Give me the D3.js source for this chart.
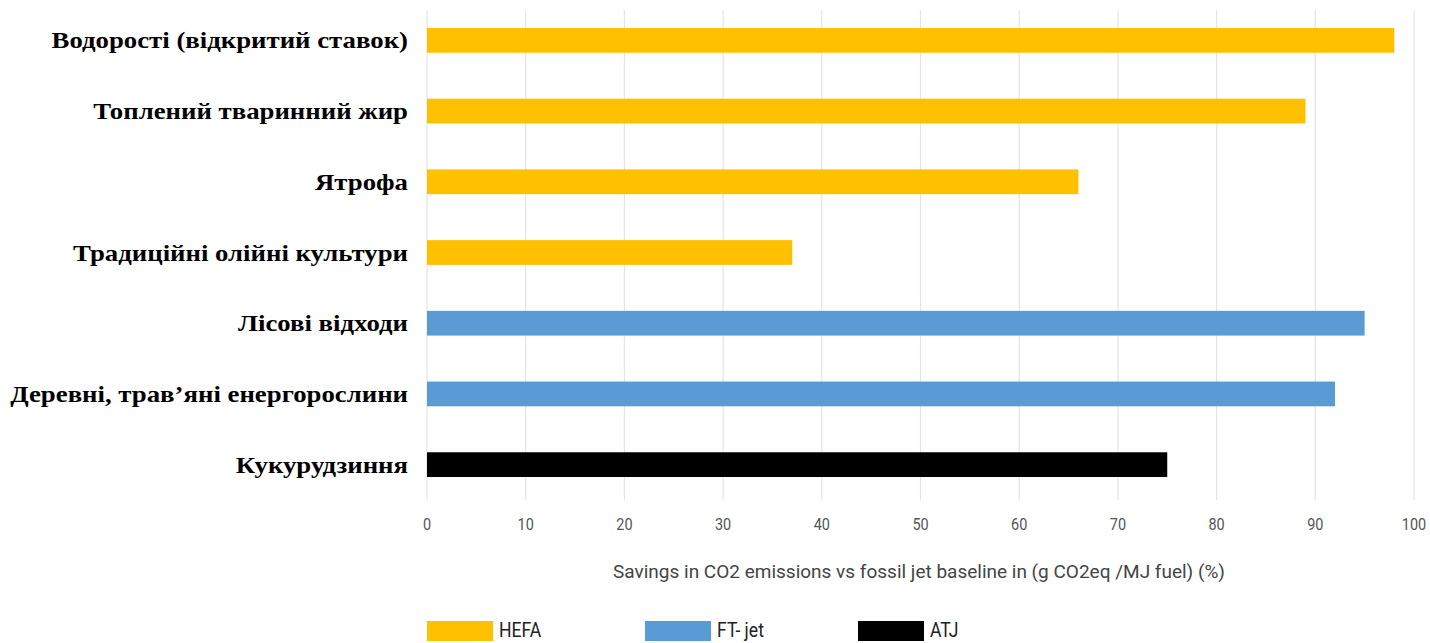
<!DOCTYPE html>
<html>
<head>
<meta charset="utf-8">
<script src="https://cdn.jsdelivr.net/npm/d3@7"></script>
<style>
  body { margin: 0; background: #fff; }
  svg { display: block; }
</style>
</head>
<body>
<div id="chart"></div>
<script>
// data
const categories = [
  "Водорості (відкритий ставок)",
  "Топлений тваринний жир",
  "Ятрофа",
  "Традиційні олійні культури",
  "Лісові відходи",
  "Деревні, трав’яні енергорослини",
  "Кукурудзиння"
];
const savings = [98, 89, 66, 37, 95, 92, 75];
const pathways = ["HEFA", "HEFA", "HEFA", "HEFA", "FT- jet", "FT- jet", "ATJ"];
const legendLabels = ["HEFA", "FT- jet", "ATJ"];
const xTicks = [0, 10, 20, 30, 40, 50, 60, 70, 80, 90, 100];
const axisTitle = "Savings in CO2 emissions vs fossil jet baseline in (g CO2eq  /MJ fuel) (%)";

const width = 1430, height = 643;

const svg = d3.select("#chart")
  .append("svg")
  .attr("width", width)
  .attr("height", height);

const color = d3.scaleOrdinal()
  .domain(legendLabels)
  .range(["#FFC000", "#5B9BD5", "#000000"]);

const x = d3.scaleLinear()
  .domain([0, 100])
  .range([427, 1414]);

const y = d3.scaleBand()
  .domain(categories)
  .range([5, 500])
  .paddingInner(0.65)
  .paddingOuter(0.325);

// grid lines
svg.append("g")
  .selectAll("line")
  .data(xTicks)
  .join("line")
    .attr("x1", d => x(d))
    .attr("x2", d => x(d))
    .attr("y1", 10)
    .attr("y2", 500)
    .attr("stroke", "#e4e4e4")
    .attr("stroke-width", 1.2);

// tick labels (narrow, DIN-like look)
svg.append("g")
  .selectAll("text")
  .data(xTicks)
  .join("text")
    .attr("transform", d => `translate(${x(d)}, 530) scale(0.85, 1)`)
    .attr("text-anchor", "middle")
    .style("font-family", "Roboto, sans-serif")
    .style("font-size", "17px")
    .attr("fill", "#555")
    .text(d => d);

// bars
svg.append("g")
  .selectAll("rect")
  .data(categories)
  .join("rect")
    .attr("x", x(0))
    .attr("y", d => y(d))
    .attr("width", (d, i) => x(savings[i]) - x(0))
    .attr("height", y.bandwidth())
    .attr("fill", (d, i) => color(pathways[i]));

// category labels (stretched wide like the original)
svg.append("g")
  .selectAll("text")
  .data(categories)
  .join("text")
    .attr("transform", d => `translate(408, ${y(d) + y.bandwidth() / 2}) scale(1.165, 1)`)
    .attr("dy", "0.35em")
    .attr("text-anchor", "end")
    .style("font-family", "'Liberation Serif', 'Times New Roman', serif")
    .style("font-weight", "bold")
    .style("font-size", "23px")
    .attr("fill", "#000")
    .text(d => d);

// axis title
svg.append("text")
  .attr("x", 919)
  .attr("y", 578)
  .attr("text-anchor", "middle")
  .style("font-family", "Roboto, sans-serif")
  .style("font-size", "19px")
  .attr("fill", "#444")
  .text(axisTitle);

// legend
const legendX = [427, 645, 858];
const legend = svg.append("g")
  .selectAll("g")
  .data(legendLabels)
  .join("g")
    .attr("transform", (d, i) => `translate(${legendX[i]}, 621)`);

legend.append("rect")
  .attr("width", 66)
  .attr("height", 20)
  .attr("fill", d => color(d));

legend.append("text")
  .attr("transform", "translate(72, 16) scale(0.88, 1)")
  .style("font-family", "Roboto, sans-serif")
  .style("font-size", "20px")
  .attr("fill", "#222")
  .text(d => d);
</script>
</body>
</html>
